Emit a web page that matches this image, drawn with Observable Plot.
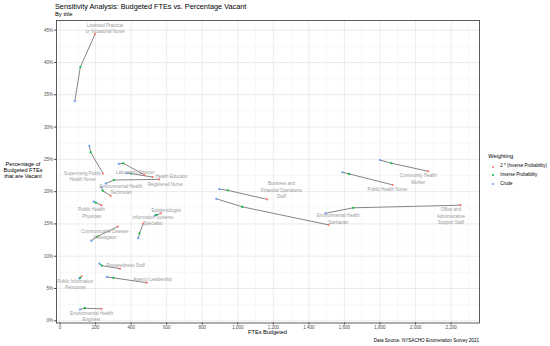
<!DOCTYPE html>
<html><head><meta charset="utf-8">
<script src="https://cdn.jsdelivr.net/npm/d3@7"></script>
<script src="https://cdn.jsdelivr.net/npm/@observablehq/plot@0.6"></script>
<style>
body{margin:0;background:#fff;font-family:"Liberation Sans",Arial,sans-serif;}
#wrap{position:relative;width:550px;height:346px;overflow:hidden;background:#fff;}
#wrap svg{position:absolute;left:0;top:0;}
.abs{position:absolute;white-space:nowrap;line-height:1;}
</style></head><body><div id="wrap"></div>
<script>
// ---- data ----
const titles = [
  "Licensed Practical\nor Vocational Nurse",
  "Supervising Public\nHealth Nurse",
  "Laboratory Director",
  "Health Educator",
  "Registered Nurse",
  "Environmental Health\nTechnician",
  "Public Health\nPhysician",
  "Communicable Disease\nInvestigator",
  "Epidemiologist",
  "Information Systems\nSpecialist",
  "Preparedness Staff",
  "Public Information\nPersonnel",
  "Agency Leadership",
  "Environmental Health\nEngineer",
  "Business and\nFinancial Operations\nStaff",
  "Environmental Health\nSanitarian",
  "Office and\nAdministrative\nSupport Staff",
  "Public Health Nurse",
  "Community Health\nWorker"
];
const crudeFTE = [83,165,330,375,257,233,189,176,532,440,221,109,263,112,896,879,1493,1588,1800];
const crudeVac = [34.0,27.1,24.3,22.85,21.25,20.7,18.45,12.4,16.25,12.8,8.85,6.55,6.8,1.75,20.4,18.9,16.65,23.0,24.9];
const invFTE = [114,172,356,401,303,240,201,210,541,447,234,113,300,139,944,1025,1650,1626,1865];
const invVac = [39.3,26.1,24.4,22.8,21.8,20.15,18.3,13.05,16.4,13.55,8.55,6.65,6.65,1.95,20.2,17.65,17.5,22.75,24.4];
const inv2FTE = [197,242,474,521,558,285,232,325,567,468,337,121,487,233,1165,1511,2253,1871,2071];
const inv2Vac = [44.4,22.8,22.6,22.25,21.9,19.35,17.9,14.6,16.65,15.05,8.07,6.9,5.9,1.85,18.8,14.85,17.9,21.05,23.15];
const weightings = ["2 * (Inverse Probability)","Inverse Probability","Crude"];
const xMajorTicks = [0,200,400,600,800,1000,1200,1400,1600,1800,2000,2200];
const xMinorTicks = [100,300,500,700,900,1100,1300,1500,1700,1900,2100,2300];
const yMajorTicks = [0,5,10,15,20,25,30,35,40,45];
const yMinorTicks = [2.5,7.5,12.5,17.5,22.5,27.5,32.5,37.5,42.5];

// ---- layout / style (label nudges in px, ggrepel-like placement) ----
const colors = ["#F8766D","#00BA38","#619CFF"];
const labelDx = [10,-20.5,-9,19,6,10.3,-9.7,-13,5.2,9.7,5.7,-6.2,5.8,-9.9,14.3,9.7,-9.6,-5.1,-10];
const labelDy = [-6,2.7,-3.3,-1,4.3,-6.6,7.2,7.4,-3.5,-3.5,-4,7.5,-3.9,7.1,-9.9,-6.4,10.6,4.4,7.1];

const rows = [];
titles.forEach((t,i)=>{
  rows.push({title:t, w:"Crude", x:crudeFTE[i], y:crudeVac[i]});
  rows.push({title:t, w:"Inverse Probability", x:invFTE[i], y:invVac[i]});
  rows.push({title:t, w:"2 * (Inverse Probability)", x:inv2FTE[i], y:inv2Vac[i]});
});

const labelMarks = titles.map((t,i)=>Plot.text(
  rows.filter(r=>r.title===t && r.w==="2 * (Inverse Probability)"),
  {x:"x", y:"y", text:"title", dx:labelDx[i], dy:labelDy[i], fontSize:4.5,
   fill:"#9a9a9a", lineHeight:1.42, lineAnchor:"middle", textAnchor:"middle"}));

const chart = Plot.plot({
  width:550, height:346,
  marginLeft:56, marginRight:71, marginTop:20, marginBottom:23.5,
  style:{fontFamily:"Liberation Sans, Arial, sans-serif", background:"white", overflow:"visible"},
  x:{domain:[-20,2360]},
  y:{domain:[-0.34,46.5]},
  color:{domain:weightings, range:colors},
  marks:[
    Plot.ruleX(xMinorTicks,{stroke:"#f0f0f0",strokeWidth:0.5}),
    Plot.ruleY(yMinorTicks,{stroke:"#f0f0f0",strokeWidth:0.5}),
    Plot.ruleX(xMajorTicks,{stroke:"#e6e6e6",strokeWidth:0.8}),
    Plot.ruleY(yMajorTicks,{stroke:"#e6e6e6",strokeWidth:0.8}),
    Plot.axisX({ticks:xMajorTicks, tickSize:2, tickPadding:1, fontSize:4.5, color:"#4d4d4d", label:null}),
    Plot.axisY({ticks:yMajorTicks, tickFormat:d=>d+"%", tickSize:2, tickPadding:1.5, fontSize:4.5, color:"#4d4d4d", label:null}),
    Plot.line(rows,{x:"x", y:"y", z:"title", stroke:"#666", strokeWidth:0.8}),
    Plot.dot(rows,{x:"x", y:"y", fill:"w", r:1.1}),
    ...labelMarks,
    Plot.frame({stroke:"#333", strokeWidth:0.8})
  ]
});
const wrap = document.getElementById("wrap");
wrap.appendChild(chart);

function addText(txt, css){
  const d = document.createElement("div");
  d.className = "abs";
  d.textContent = txt;
  Object.assign(d.style, css);
  wrap.appendChild(d);
  return d;
}
addText("Sensitivity Analysis: Budgeted FTEs vs. Percentage Vacant",{left:"55px",top:"2.5px",fontSize:"7.3px",color:"#000"});
addText("By title",{left:"55px",top:"11.8px",fontSize:"5.8px",color:"#000"});
addText("Percentage of\nBudgeted FTEs\nthat are Vacant",{left:"0px",top:"162px",width:"46px",textAlign:"center",fontSize:"5.6px",lineHeight:"1.05",whiteSpace:"pre",color:"#000"});
addText("FTEs Budgeted",{left:"217.5px",width:"100px",textAlign:"center",top:"330px",fontSize:"5.6px",color:"#000"});
addText("Data Source: NYSACHO Enumeration Survey 2021",{right:"71px",top:"338.8px",fontSize:"4.6px",color:"#000"});
addText("Weighting",{left:"488.3px",top:"153.8px",fontSize:"5.6px",color:"#000"});
const legY = [166.7,175.3,184];
weightings.forEach((w,i)=>{
  const dot = document.createElement("div");
  Object.assign(dot.style,{position:"absolute",left:(492.7-1.1)+"px",top:(legY[i]-1.1)+"px",width:"2.2px",height:"2.2px",borderRadius:"50%",background:colors[i]});
  wrap.appendChild(dot);
  addText(w,{left:"500.3px",top:(legY[i]-2.4)+"px",fontSize:"4.5px",color:"#000"});
});
</script></body></html>
